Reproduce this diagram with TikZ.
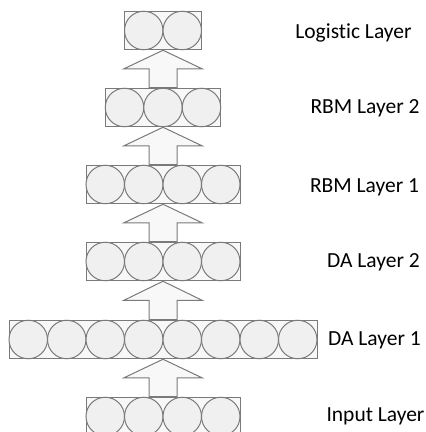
\documentclass[tikz,border=0pt]{standalone}
\usepackage{fontspec}
\setmainfont{Carlito}[Ligatures=NoCommon]
\usetikzlibrary{calc}

\definecolor{edgegray}{HTML}{7A7A7A}
\definecolor{unitfill}{HTML}{F0F0F0}
\definecolor{boxfill}{HTML}{F8F8F8}
\tikzset{
  unit/.style={circle, draw=edgegray, line width=1pt, fill=unitfill,
    minimum size=38.5pt, inner sep=0pt},
  layerbox/.style={rectangle, draw=edgegray, line width=1pt, fill=boxfill,
    minimum height=38.5pt, inner sep=0pt},
  layername/.style={font=\fontsize{21.5}{26}\selectfont, inner sep=0pt},
  flow/.style={draw=edgegray, line width=1pt, fill=boxfill},
}

% one layer: name, number of units, vertical position
\newcommand{\nnlayer}[3]{%
  \node[layerbox, minimum width=#2*38.5pt] (#1) at (163,#3) {};
  \foreach \i in {1,...,#2}
    \node[unit] (#1-\i) at ({163+(\i-(#2+1)/2)*38.5},#3) {};
}

% block arrow from the top of one layer to the bottom of the next
\newcommand{\feedup}[2]{%
  \path (#1.north) -- coordinate[midway] (#1-mid) (#2.south);
  \draw[flow] ($(#1.north)+(-14,0)$) -- ($(#1-mid)+(-14,0)$) -- ($(#1-mid)+(-39.5,0)$)
    -- (#2.south) -- ($(#1-mid)+(39.5,0)$) -- ($(#1-mid)+(14,0)$)
    -- ($(#1.north)+(14,0)$) -- cycle;
}

\begin{document}
\begin{tikzpicture}[x=1pt, y=1pt]
\useasboundingbox (0,0) rectangle (426,432);
\clip (0,0) rectangle (426,432);

\nnlayer{logistic}{2}{401.5}
\nnlayer{rbm2}{3}{324.5}
\nnlayer{rbm1}{4}{247.5}
\nnlayer{da2}{4}{170.5}
\nnlayer{da1}{8}{92.5}
\nnlayer{input}{4}{15.5}

\feedup{input}{da1}
\feedup{da1}{da2}
\feedup{da2}{rbm1}
\feedup{rbm1}{rbm2}
\feedup{rbm2}{logistic}

\node[layername] (logistic-name) at (353.5,399) {Logistic Layer};
\node[layername] (rbm2-name) at (365,324) {RBM Layer 2};
\node[layername] (rbm1-name) at (364.5,245) {RBM Layer 1};
\node[layername] (da2-name) at (373.5,170) {DA Layer 2};
\node[layername] (da1-name) at (374.5,92) {DA Layer 1};
\node[layername] (input-name) at (375.5,16) {Input Layer};

\end{tikzpicture}
\end{document}
